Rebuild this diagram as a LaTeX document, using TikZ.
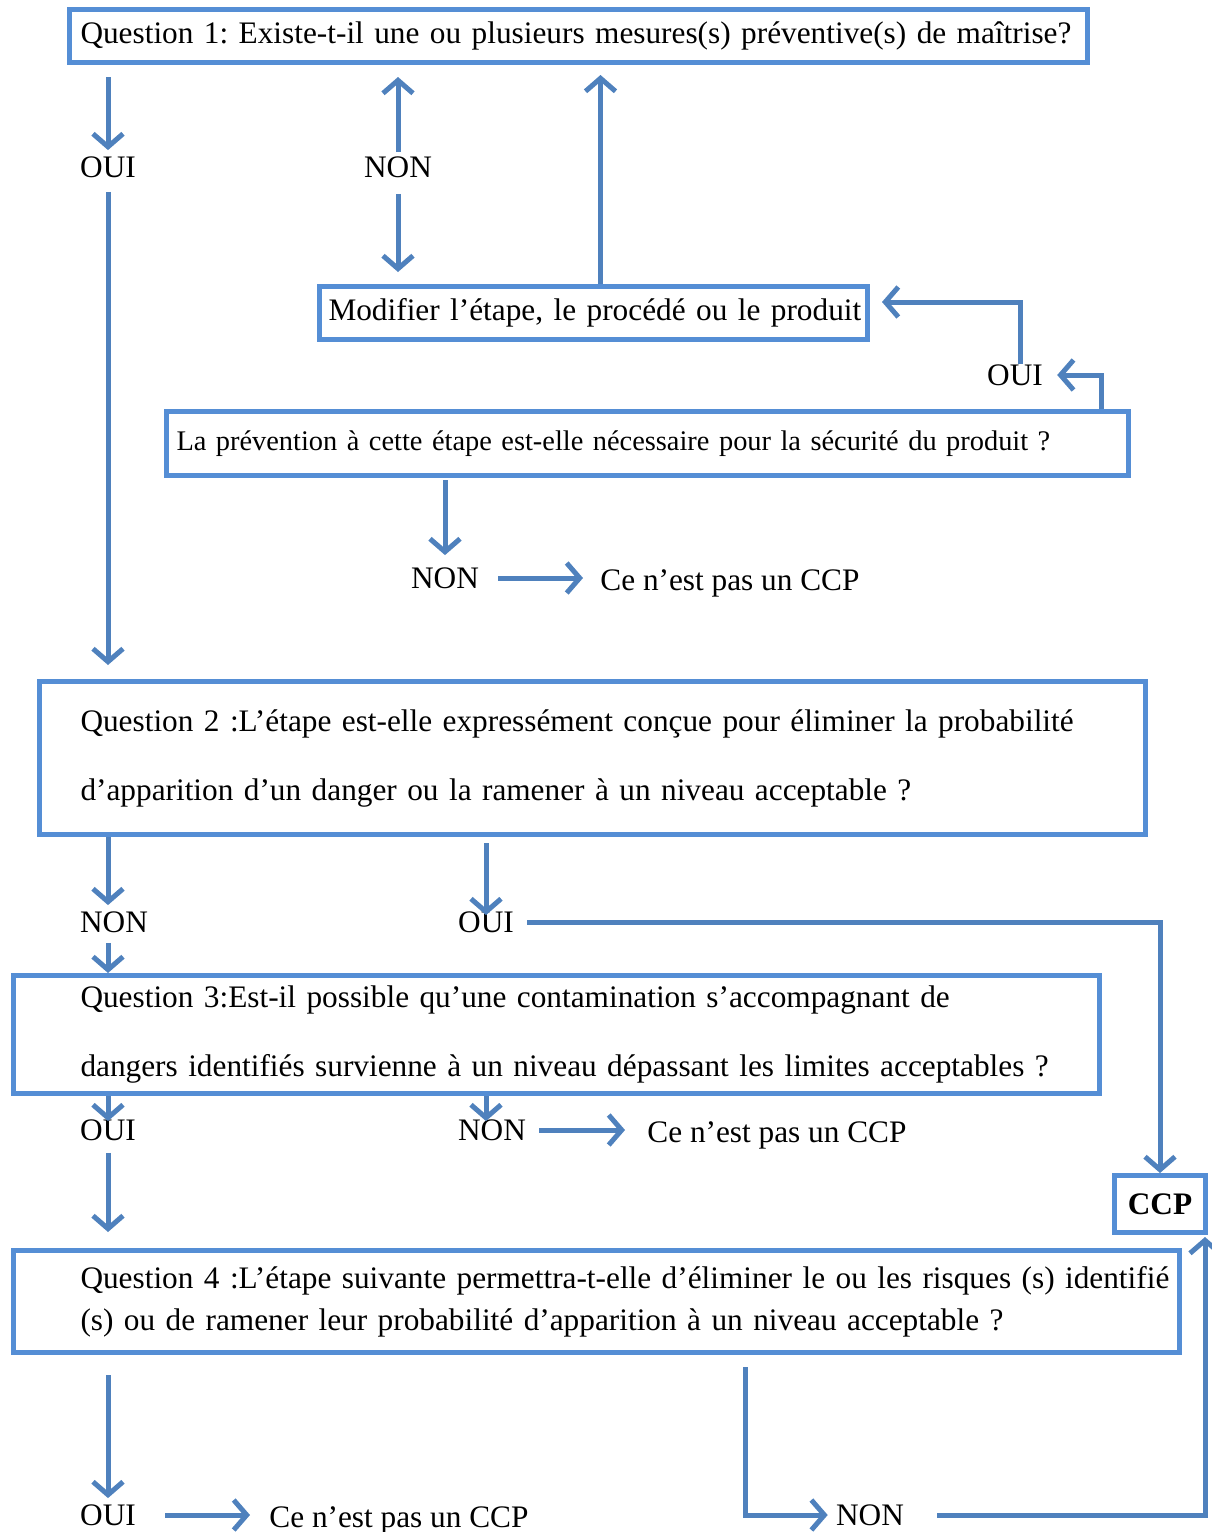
\documentclass[tikz,border=0pt]{standalone}
\usepackage{fontspec}
\setmainfont{Liberation Serif}
\frenchspacing
\usetikzlibrary{arrows.meta,positioning}
\definecolor{boxblue}{RGB}{85,142,213}
\definecolor{linkblue}{RGB}{79,129,189}
\newcommand{\qfont}{\fontsize{15.65}{19}\selectfont}
\tikzset{qbox/.style={draw=boxblue,line width=2.5pt,anchor=north west,align=left,inner xsep=4pt,inner ysep=0pt,font=\qfont}}
\tikzset{answer/.style={inner sep=0pt,font=\qfont}}
\tikzset{flow/.style={-{Straight Barb[length=6.5pt,width=15pt]},line width=2.5pt,linkblue}}

\begin{document}
\begin{tikzpicture}[x=0.5pt,y=-0.5pt]

	\useasboundingbox (0,0) rectangle (1211,1532);
	\node[qbox,text width=501pt,minimum height=26.5pt] (q1) at (67,7) {\mbox{\hspace*{1.5pt}Question 1: Existe-t-il une ou plusieurs mesures(s) préventive(s) de maîtrise?}};
	\node[qbox,text width=266pt,minimum height=26.5pt] (modif) at (317,284) {\mbox{\hspace*{0.5pt}Modifier l’étape, le procédé ou le produit}};
	\node[qbox,text width=473pt,minimum height=32pt,font=\fontsize{14.2}{17}\selectfont] (prev) at (164,409) {\mbox{\hspace*{1pt}La prévention à cette étape est-elle nécessaire pour la sécurité du produit ?}};
	\node[qbox,text width=545pt,minimum height=76.5pt,font=\fontsize{15.65}{34.5}\selectfont] (q2) at (37,679) {\mbox{\hspace*{16.5pt}Question 2 :L’étape est-elle expressément conçue pour éliminer la probabilité}\\\mbox{\hspace*{16.5pt}d’apparition d’un danger ou la ramener à un niveau acceptable ?}};
	\node[qbox,text width=535pt,minimum height=59pt,font=\fontsize{15.65}{34.5}\selectfont] (q3) at (11,973) {\mbox{\hspace*{29.5pt}Question 3:Est-il possible qu’une contamination s’accompagnant de}\\\mbox{\hspace*{29.5pt}dangers identifiés survienne à un niveau dépassant les limites acceptables ?}};
	\node[qbox,text width=575pt,minimum height=51pt,font=\fontsize{15.65}{21}\selectfont] (q4) at (11,1248) {\mbox{\hspace*{29.5pt}Question 4 :L’étape suivante permettra-t-elle d’éliminer le ou les risques (s) identifié}\\\mbox{\hspace*{29.5pt}(s) ou de ramener leur probabilité d’apparition à un niveau acceptable ?}};
	\node[qbox,align=center,minimum width=45.5pt,minimum height=28.5pt,inner xsep=0pt,font=\qfont\bfseries] (ccp) at (1112,1173) {CCP};

	\node[answer] (oui1) at (108,167) {OUI};
	\node[answer] (non1) at (398,167) {NON};
	\node[answer] (oui2) at (1015,375) {OUI};
	\node[answer] (non2) at (445,578) {NON};
	\node[answer,anchor=base west] (pas1) at (600,590) {Ce n’est pas un CCP};
	\node[answer] (non3) at (114,922) {NON};
	\node[answer] (oui3) at (486,922) {OUI};
	\node[answer] (oui4) at (108,1130) {OUI};
	\node[answer] (non4) at (492,1130) {NON};
	\node[answer,anchor=base west] (pas2) at (647,1142) {Ce n’est pas un CCP};
	\node[answer] (oui5) at (108,1515) {OUI};
	\node[answer,anchor=base west] (pas3) at (269,1527) {Ce n’est pas un CCP};
	\node[answer] (non5) at (870,1515) {NON};

	\coordinate (modtop) at ([xshift=3.5pt]modif.north);
	\coordinate (q4out) at ([xshift=74.5pt]q4.south);
	\coordinate (ccpin) at ([xshift=-1.5pt]ccp.south east);

	\draw[flow,shorten <=6pt,shorten >=3pt] (q1.south -| oui1) -- (oui1.north);
	\draw[flow,shorten <=7pt,shorten >=7pt] (oui1.south) -- (q2.north -| oui1);
	\draw[flow,shorten <=2pt,shorten >=6pt] (non1.north) -- (q1.south -| non1);
	\draw[flow,shorten <=8pt,shorten >=6pt] (non1.south) -- (modif.north -| non1);
	\draw[flow,shorten >=5pt] (modtop) -- (modtop |- q1.south);
	\draw[flow,shorten >=6pt] ([xshift=2.5pt]oui2.north) |- ([yshift=5.5pt]modif.east);
	\draw[flow,shorten >=7pt] ([xshift=-15pt]prev.north east) |- (oui2.east);
	\draw[flow,shorten <=1pt,shorten >=6pt] (prev.south -| non2) -- (non2.north);
	\draw[flow,shorten <=9.5pt,shorten >=8.5pt] (non2.east) -- (non2.east -| pas1.west);

	\draw[flow,shorten >=3pt] (q2.south -| oui1) -- (non3.north -| oui1);
	\draw[flow,shorten <=5pt] (non3.south -| oui1) -- (q3.north -| oui1);
	\draw[flow,shorten <=3pt,shorten >=-2pt] (q2.south -| oui3) -- (oui3.north);
	\draw[flow,shorten <=6.5pt] (oui3.east) -| (ccp.north);
	\draw[flow,shorten >=-1pt] (q3.south -| oui4) -- (oui4.north);
	\draw[flow,shorten >=-1pt] (q3.south -| oui3) -- (oui3 |- non4.north);
	\draw[flow,shorten <=6.5pt,shorten >=11pt] (non4.east) -- (non4.east -| pas2.west);
	\draw[flow,shorten <=6pt,shorten >=8pt] (oui4.south) -- (q4.north -| oui4);
	\draw[flow,shorten <=10pt,shorten >=3pt] (q4.south -| oui5) -- (oui5.north);
	\draw[flow,shorten <=14.5pt,shorten >=9.5pt] (oui5.east) -- (oui5.east -| pas3.west);
	\draw[flow,shorten <=6pt,shorten >=4pt] (q4out) |- (non5.west);
	\draw[flow,shorten <=16.5pt,shorten >=1pt] (non5.east) -| (ccpin);
\end{tikzpicture}
\end{document}
